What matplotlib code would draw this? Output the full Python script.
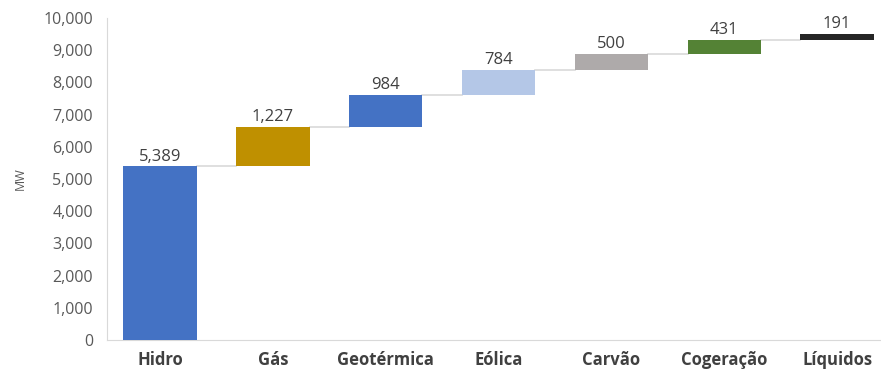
import matplotlib
matplotlib.use("Agg")
import matplotlib.pyplot as plt
import numpy as np

# data
categories = ["Hidro", "Gás", "Geotérmica", "Eólica", "Carvão", "Cogeração", "Líquidos"]
values = [5389, 1227, 984, 784, 500, 431, 191]
colors = ["#4472C4", "#BF9000", "#4472C4", "#B4C7E7", "#AEAAAA", "#548235", "#262626"]
yticks = [0, 1000, 2000, 3000, 4000, 5000, 6000, 7000, 8000, 9000, 10000]

plt.rcParams['font.family'] = ['Open Sans', 'DejaVu Sans']

fig = plt.figure(figsize=(8.81, 3.71), dpi=100)
ax = fig.add_axes([107/881, 31/371, (880-107)/881, (340-18)/371])

x = np.arange(len(values))
vals = np.array(values)
tops = np.cumsum(vals)
bottoms = tops - vals
w = 0.65

ax.bar(x, vals, bottom=bottoms, width=w, color=colors, zorder=3)

# connector lines
for i in range(len(vals) - 1):
    ax.plot([x[i] + w/2, x[i+1] - w/2], [tops[i], tops[i]], color="#D9D9D9", lw=1.2, zorder=2)

# value labels
for i in range(len(vals)):
    ax.text(x[i], tops[i] + 60, f"{vals[i]:,}", ha="center", va="bottom",
            fontsize=12, color="#404040", zorder=4)

ax.set_xlim(-0.47, 6.38)
ax.set_ylim(0, 10000)
ax.set_yticks(yticks)
ax.set_yticklabels([f"{t:,}" for t in yticks], fontsize=11.5, color="#595959")
ax.set_xticks(x)
ax.set_xticklabels(categories, fontsize=12, fontweight="bold", color="#404040")
ax.tick_params(axis="both", length=0)
ax.tick_params(axis="x", pad=8)
ax.tick_params(axis="y", pad=10)
ax.set_ylabel("MW", fontsize=9, color="#595959", labelpad=12)

for s in ["top", "right"]:
    ax.spines[s].set_visible(False)
ax.spines["left"].set_color("#D9D9D9")
ax.spines["bottom"].set_color("#D9D9D9")

fig.savefig("out.png", dpi=100)
